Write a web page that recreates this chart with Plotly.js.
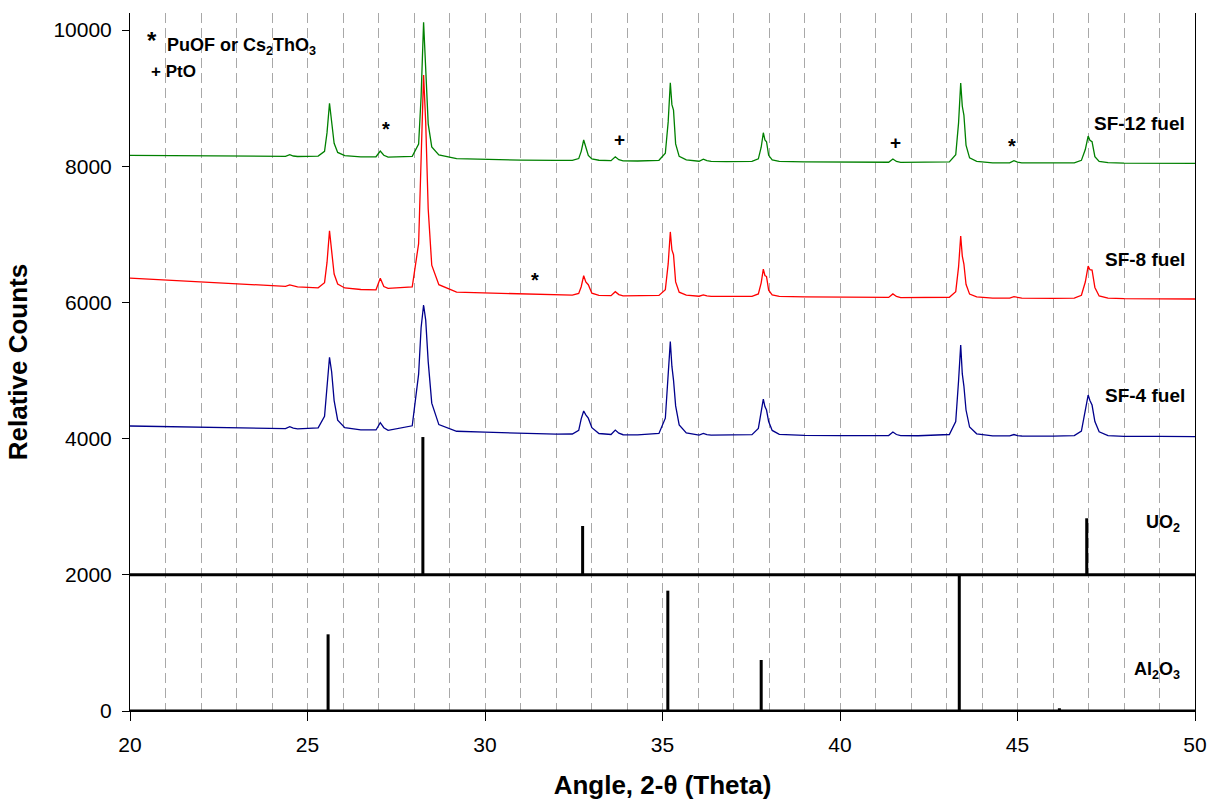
<!DOCTYPE html>
<html>
<head>
<meta charset="utf-8">
<script src="https://cdn.plot.ly/plotly-3.0.1.min.js"></script>
<style>
  html, body { margin: 0; padding: 0; background: #fff; }
  #chart { width: 1209px; height: 800px; }
</style>
</head>
<body>
<div id="chart"></div>
<script>
// ---- Data ----
const twoTheta = [20,21,22,23,24, 24.38,24.50,24.60,24.72, 25.30,25.48,25.55,25.62,25.68,25.75,25.85,26.05, 26.5, 26.93,27.05,27.15,27.27, 27.95,28.13,28.20,28.27,28.33,28.40,28.50,28.70, 29.2,30,31,32, 32.46,32.64,32.71,32.78,32.84,32.91,33.01,33.21, 33.55,33.67,33.77,33.89, 34.3, 34.90,35.08,35.16,35.22,35.265,35.31,35.37,35.47,35.67, 36.03,36.15,36.25,36.37, 36.8, 37.52,37.70,37.78,37.84,37.885,37.93,37.99,38.09,38.29, 39,40,41, 41.37,41.49,41.59,41.71, 42.2, 43.08,43.26,43.34,43.40,43.445,43.49,43.55,43.65,43.85, 44.3, 44.78,44.90,45.00,45.12, 46, 46.60,46.80,46.91,46.99,47.04,47.10,47.18,47.30,47.55, 48,49,50];

const sf12 = [8160,8155,8150,8148,8145,
  8145,8170,8150,8143,
  8148,8218,8493,8925,8650,8336,8203,8156,
  8138,
  8139,8223,8161,8135,
  8145,8324,9020,10113,9417,8622,8284,8165,
  8112,8100,8090,8085,
  8085,8112,8218,8385,8279,8158,8106,8088,
  8081,8138,8096,8078,
  8077,
  8087,8190,8651,9226,8904,8823,8328,8144,8092,
  8073,8102,8081,8072,
  8068,
  8070,8109,8279,8492,8385,8360,8160,8092,8072,
  8063,8060,8058,
  8058,8106,8070,8056,
  8055,
  8064,8169,8637,9222,8880,8752,8310,8122,8070,
  8050,
  8050,8081,8059,8049,
  8047,
  8050,8086,8245,8443,8380,8360,8140,8070,8052,
  8045,8043,8042];

const sf8 = [6358,6330,6300,6278,6245,
  6235,6256,6240,6228,
  6214,6290,6587,7053,6756,6417,6270,6212,
  6190,
  6185,6354,6232,6205,
  6228,6863,8069,9339,8641,7371,6546,6260,
  6150,6140,6123,6108,
  6107,6133,6230,6392,6300,6260,6135,6103,
  6099,6157,6115,6097,
  6096,
  6103,6188,6565,7035,6772,6700,6301,6150,6108,
  6091,6110,6096,6090,
  6088,
  6089,6125,6287,6490,6395,6380,6180,6112,6090,
  6080,6075,6073,
  6073,6125,6088,6070,
  6070,
  6076,6158,6521,6975,6680,6564,6267,6122,6080,
  6064,
  6063,6085,6070,6062,
  6060,
  6062,6105,6300,6534,6480,6476,6220,6095,6064,
  6055,6052,6050];

const sf4 = [4185,4175,4165,4158,4150,
  4147,4175,4155,4143,
  4157,4326,4771,5194,4982,4559,4272,4162,
  4127,
  4127,4234,4160,4122,
  4188,4946,5629,5962,5740,5130,4521,4206,
  4108,4095,4077,4066,
  4068,4120,4290,4405,4350,4300,4160,4075,
  4060,4126,4080,4057,
  4056,
  4075,4300,4950,5424,5060,4860,4480,4200,4085,
  4052,4075,4058,4051,
  4050,
  4058,4150,4420,4581,4470,4420,4250,4120,4062,
  4047,4045,4044,
  4045,4097,4060,4043,
  4042,
  4060,4250,4850,5374,4950,4772,4420,4170,4070,
  4039,
  4039,4060,4045,4038,
  4037,
  4045,4110,4400,4640,4560,4493,4250,4100,4045,
  4034,4032,4030];

// reference stick patterns
const uo2Base = 2000;
const uo2Pos = [28.25, 32.75, 46.95];
const uo2Int = [2023, 717, 830];
const al2o3Base = 0;
const al2o3Pos = [25.58, 35.15, 37.78, 43.36, 46.18];
const al2o3Int = [1126, 1767, 749, 2000, 40];

const xRange = [20, 50];
const yTicks = [0, 2000, 4000, 6000, 8000, 10000];
const yTickText = ['0', '2000', '4000', '6000', '8000', '10000'];

// ---- Styling ----
const FONT = 'Liberation Sans, Arial, sans-serif';
const lineW = 1.3;

const traces = [
  { type: 'scatter', mode: 'lines', x: twoTheta, y: sf4, line: { color: '#00008c', width: lineW }, hoverinfo: 'skip' },
  { type: 'scatter', mode: 'lines', x: twoTheta, y: sf8, line: { color: '#ff0000', width: lineW }, hoverinfo: 'skip' },
  { type: 'scatter', mode: 'lines', x: twoTheta, y: sf12, line: { color: '#008000', width: lineW }, hoverinfo: 'skip' },
  { type: 'scatter', mode: 'lines', x: xRange, y: [uo2Base, uo2Base], line: { color: '#000', width: 3 }, hoverinfo: 'skip' },
  { type: 'scatter', mode: 'lines', x: xRange, y: [al2o3Base, al2o3Base], line: { color: '#000', width: 3 }, hoverinfo: 'skip', cliponaxis: false },
  { type: 'bar', x: uo2Pos, y: uo2Int, base: uo2Base, width: 0.085, marker: { color: '#000', line: { width: 0 } }, hoverinfo: 'skip' },
  { type: 'bar', x: al2o3Pos, y: al2o3Int, base: al2o3Base, width: 0.085, marker: { color: '#000', line: { width: 0 } }, hoverinfo: 'skip' }
];

const gridColor = '#a8a8a8';
const gridDash = '10px,5px';

function label(text, x, y, size, anchor) {
  return { text: text, x: x, y: y, xref: 'x', yref: 'y', showarrow: false,
           xanchor: anchor || 'center', yanchor: 'middle',
           font: { family: FONT, size: size, color: '#000', weight: 'bold' } };
}

const layout = {
  width: 1209, height: 800,
  margin: { l: 130, r: 14, t: 13, b: 89 },
  paper_bgcolor: '#fff', plot_bgcolor: '#fff',
  showlegend: false,
  barmode: 'overlay',
  xaxis: {
    range: xRange, tick0: 20, dtick: 5,
    ticks: 'outside', ticklen: 9, tickcolor: '#000', tickwidth: 1,
    showline: true, linecolor: '#000', linewidth: 1,
    showgrid: true, gridcolor: gridColor, griddash: gridDash, gridwidth: 1,
    minor: { dtick: 1, showgrid: true, gridcolor: gridColor, griddash: gridDash, gridwidth: 1, ticks: '' },
    zeroline: false,
    tickfont: { family: FONT, size: 21, color: '#000' },
    ticklabelstandoff: 6,
    title: { text: 'Angle, 2-θ (Theta)', font: { family: FONT, size: 26, color: '#000', weight: 'bold' }, standoff: 22 }
  },
  yaxis: {
    range: [0, 10250], tickvals: yTicks, ticktext: yTickText,
    ticks: 'outside', ticklen: 7, tickcolor: '#000', tickwidth: 1,
    showline: true, linecolor: '#000', linewidth: 1, mirror: true,
    showgrid: false, zeroline: false,
    tickfont: { family: FONT, size: 21, color: '#000' },
    ticklabelstandoff: 6,
    title: { text: 'Relative Counts', font: { family: FONT, size: 26, color: '#000', weight: 'bold' }, standoff: 18 }
  },
  annotations: [
    label('*', 20.62, 9850, 24, 'center'),
    label('PuOF or Cs<sub>2</sub>ThO<sub>3</sub>', 20.99, 9765, 18, 'left'),
    label('+ PtO', 20.53, 9398, 17, 'left'),
    label('SF-12 fuel', 49.77, 8634, 19, 'right'),
    label('SF-8 fuel', 49.77, 6623, 19, 'right'),
    label('SF-4 fuel', 49.77, 4626, 19, 'right'),
    label('UO<sub>2</sub>', 49.63, 2760, 18, 'right'),
    label('Al<sub>2</sub>O<sub>3</sub>', 49.63, 602, 18, 'right'),
    label('*', 27.21, 8546, 20, 'center'),
    label('+', 33.80, 8395, 19, 'center'),
    label('+', 41.56, 8351, 19, 'center'),
    label('*', 44.85, 8297, 20, 'center'),
    label('*', 31.41, 6329, 20, 'center')
  ]
};

Plotly.newPlot('chart', traces, layout, { displayModeBar: false, staticPlot: true });
</script>
</body>
</html>
